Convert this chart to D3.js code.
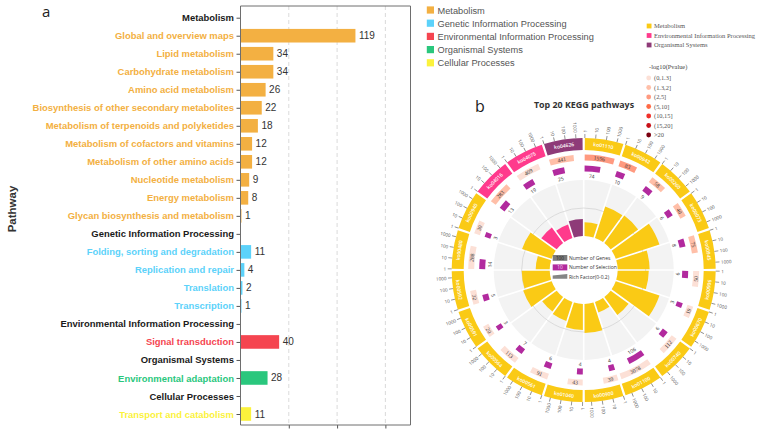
<!DOCTYPE html>
<html><head><meta charset="utf-8">
<script src="https://cdn.jsdelivr.net/npm/d3@7/dist/d3.min.js"></script>
<style>html,body{margin:0;padding:0;background:#fff}svg{display:block}</style>
</head><body><svg id="c" width="761" height="436"></svg>
<script>
// ---------- panel a data ----------
const pathways = ["Metabolism","Global and overview maps","Lipid metabolism","Carbohydrate metabolism","Amino acid metabolism","Biosynthesis of other secondary metabolites","Metabolism of terpenoids and polyketides","Metabolism of cofactors and vitamins","Metabolism of other amino acids","Nucleotide metabolism","Energy metabolism","Glycan biosynthesis and metabolism","Genetic Information Processing","Folding, sorting and degradation","Replication and repair","Translation","Transcription","Environmental Information Processing","Signal transduction","Organismal Systems","Environmental adaptation","Cellular Processes","Transport and catabolism"];
const pathwayCounts = [null,119,34,34,26,22,18,12,12,9,8,1,null,11,4,2,1,null,40,null,28,null,11];
const pathwayGroups = [-1,0,0,0,0,0,0,0,0,0,0,0,-1,1,1,1,1,-1,2,-1,3,-1,4];
const groupNames = ["Metabolism","Genetic Information Processing","Environmental Information Processing","Organismal Systems","Cellular Processes"];
const groupColors = ["#F3B042","#5CD2FA","#F54550","#2AC77D","#FBF23C"];
const xTicks = [50,100,150];
// ---------- panel b data ----------
const koIds = ["ko01110","ko00942","ko00260","ko00073","ko00945","ko00906","ko00670","ko00740","ko01100","ko00900","ko01040","ko00561","ko00564","ko00591","ko00592","ko00480","ko00940","ko04016","ko04075","ko04626"];
const koClass = [0,0,0,0,0,0,0,0,0,0,0,0,0,0,0,0,0,1,1,2];
const koGenes = [1596,83,58,40,75,50,19,112,3078,39,43,91,113,20,32,288,30,283,409,441];
const koSelected = [74,10,9,6,8,6,3,6,106,4,4,6,7,3,5,14,3,13,19,25];
const koRich = [0.049,0.118,0.121,0.164,0.114,0.111,0.164,0.079,0.039,0.104,0.093,0.071,0.064,0.107,0.100,0.050,0.111,0.068,0.050,0.061];
const koPbin = [2,2,1,1,1,0,0,0,0,0,0,0,0,0,0,0,0,1,0,1];
const classNames = ["Metabolism","Environmental Information Processing","Organismal Systems"];
const classColors = ["#FACA15","#FF3A8C","#8E3B78"];
const pBins = ["(0,1.3]","(1.3,2]","(2,5]","(5,10]","(10,15]","(15,20]",">20"];
const pColors = ["#FCE0D6","#FFBFA8","#FF9A80","#FF6A45","#F0302A","#C81018","#7A0010"];
const logTicks = [1,10,100,1000];

const svg = d3.select("#c");
const SANS = "'Liberation Sans',Arial,sans-serif", OPEN = "'Open Sans',sans-serif", SERIF = "'Liberation Serif',serif";

// ===== panel a =====
const plot = {l:240.5, r:410.5, t:6, b:425};
const x = d3.scaleLinear().domain([0,176]).range([plot.l,plot.r]);
const y = d3.scalePoint().domain(pathways).range([17.7,414]);
const a = svg.append("g");
a.append("g").selectAll("line").data(xTicks).join("line")
  .attr("x1",d=>x(d)).attr("x2",d=>x(d)).attr("y1",plot.t).attr("y2",plot.b)
  .attr("stroke","#d0d0d0").attr("stroke-dasharray","4 3").attr("stroke-width",0.8);
const barData = pathways.map((p,i)=>({p,v:pathwayCounts[i],g:pathwayGroups[i]})).filter(d=>d.v!==null);
a.append("g").selectAll("rect").data(barData).join("rect")
  .attr("x",plot.l).attr("y",d=>y(d.p)-6.8).attr("height",13.6)
  .attr("width",d=>x(d.v)-plot.l).attr("fill",d=>groupColors[d.g]);
a.append("g").selectAll("text").data(barData).join("text")
  .attr("x",d=>x(d.v)+3.5).attr("y",d=>y(d.p)+3.5)
  .attr("font-family",SANS).attr("font-size",10).attr("fill","#333").text(d=>d.v);
const yAxis = a.append("g").attr("transform",`translate(${plot.l},0)`)
  .call(d3.axisLeft(y).tickSize(4).tickPadding(2.5));
yAxis.select(".domain").remove();
yAxis.selectAll("line").attr("stroke","#555");
yAxis.selectAll("text").attr("font-family",SANS).attr("font-size",9.45).attr("font-weight","bold")
  .attr("fill",(d,i)=>pathwayGroups[i]<0?"#1a1a1a":groupColors[pathwayGroups[i]]);
const xAxis = a.append("g").attr("transform",`translate(0,${plot.b})`)
  .call(d3.axisBottom(x).tickValues(xTicks).tickSize(3.5).tickFormat(""));
xAxis.select(".domain").remove();
xAxis.selectAll("line").attr("stroke","#555");
a.append("path").attr("d",`M${plot.r},${plot.b}H${plot.l}V${plot.t}H${plot.r}V${plot.b}`)
  .attr("fill","none").attr("stroke","#6e6e6e").attr("stroke-width",1);
a.append("text").attr("transform","translate(15.5,209) rotate(-90)").attr("text-anchor","middle")
  .attr("font-family",SANS).attr("font-size",11.5).attr("font-weight","bold").attr("fill","#333").text("Pathway");
svg.append("text").attr("x",42).attr("y",16.5).attr("font-family",OPEN).attr("font-size",15).attr("fill","#222").text("a");
svg.append("text").attr("x",475).attr("y",112).attr("font-family",OPEN).attr("font-size",16).attr("fill","#222").text("b");

// legend 1
const leg1Y = d3.scalePoint().domain(groupNames).range([10,62.8]);
const l1 = svg.append("g").selectAll("g").data(groupNames).join("g");
l1.append("rect").attr("x",426.8).attr("y",d=>leg1Y(d)-3.6).attr("width",7.2).attr("height",7.2)
  .attr("fill",(d,i)=>groupColors[i]);
l1.append("text").attr("x",437.5).attr("y",d=>leg1Y(d)+3.5).attr("font-family",SANS).attr("font-size",9.25)
  .attr("fill","#555").text(d=>d);

// legend 2
const leg2Y = d3.scalePoint().domain(classNames).range([26,45]);
const l2 = svg.append("g").selectAll("g").data(classNames).join("g");
l2.append("rect").attr("x",646.7).attr("y",d=>leg2Y(d)-2.4).attr("width",4.8).attr("height",4.8)
  .attr("fill",(d,i)=>classColors[i]);
l2.append("text").attr("x",654).attr("y",d=>leg2Y(d)+2).attr("font-family",SERIF).attr("font-size",6.5)
  .attr("fill","#555").text(d=>d);
svg.append("text").attr("x",649).attr("y",68.5).attr("font-family",SERIF).attr("font-size",6.4).attr("fill","#444").text("-log10(Pvalue)");
const leg3Y = d3.scalePoint().domain(pBins).range([78,135]);
const l3 = svg.append("g").selectAll("g").data(pBins).join("g");
l3.append("circle").attr("cx",648.7).attr("cy",d=>leg3Y(d)).attr("r",2.4).attr("fill",(d,i)=>pColors[i]);
l3.append("text").attr("x",654).attr("y",d=>leg3Y(d)+2.1).attr("font-family",SERIF).attr("font-size",6.4)
  .attr("fill","#555").text(d=>d);

// ===== panel b =====
svg.append("text").attr("x",584).attr("y",108).attr("text-anchor","middle").attr("font-family",OPEN)
  .attr("font-size",8.9).attr("font-weight","bold").attr("fill","#333").text("Top 20 KEGG pathways");
const cx = 583.7, cy = 270;
const b = svg.append("g").attr("transform",`translate(${cx},${cy})`);
const rad = d=>d*Math.PI/180;
const sector = d3.scaleBand().domain(d3.range(koIds.length)).range([0,360]);
const pad = 0.5;
const sStart = i=>sector(i)+pad, sEnd = i=>sector(i)+sector.bandwidth()-pad;
const deco = d3.scaleLog().domain([1,1000]).range([0,14.1]);
const rich = d3.scaleLinear().domain([0,0.2]).range([34,90]);
const rows = koIds.map((id,i)=>({id,i}));
const polar = (r,deg)=>[r*Math.sin(rad(deg)),-r*Math.cos(rad(deg))];
const tang = (r,deg)=>{const p=polar(r,deg);const f=(deg>90&&deg<270)?deg-180:deg;return `translate(${p[0]},${p[1]}) rotate(${f})`;};
const arc = d3.arc();
const padArc = d3.arc().padAngle(0.028).padRadius(60);

// grey background sectors
b.append("g").selectAll("path").data(rows).join("path")
  .attr("d",d=>padArc({innerRadius:34,outerRadius:90,startAngle:rad(sector(d.i)),endAngle:rad(sector(d.i)+sector.bandwidth())}))
  .attr("fill","#F3F3F3");
b.append("circle").attr("r",rich(0.1)).attr("fill","none").attr("stroke","#d4d4d4").attr("stroke-width",0.8);
// rich factor bars
b.append("g").selectAll("path").data(rows).join("path")
  .attr("d",d=>padArc({innerRadius:34,outerRadius:rich(koRich[d.i]),startAngle:rad(sector(d.i)),endAngle:rad(sector(d.i)+sector.bandwidth())}))
  .attr("fill",d=>classColors[koClass[d.i]]);
// selection bars
b.append("g").selectAll("path").data(rows).join("path")
  .attr("d",d=>arc({innerRadius:98.5,outerRadius:104.5,startAngle:rad(sStart(d.i)),endAngle:rad(sStart(d.i)+deco(koSelected[d.i]+1))}))
  .attr("fill","#B22A9E");
b.append("g").selectAll("text").data(rows).join("text")
  .attr("transform",d=>tang(94,sStart(d.i)+deco(koSelected[d.i]+1)/2))
  .attr("text-anchor","middle").attr("dominant-baseline","central")
  .attr("font-family",OPEN).attr("font-size",5).attr("fill","#333").text(d=>koSelected[d.i]);
// gene tiles
b.append("g").selectAll("path").data(rows).join("path")
  .attr("d",d=>arc({innerRadius:109.5,outerRadius:115.5,startAngle:rad(sStart(d.i)),endAngle:rad(sStart(d.i)+deco(koGenes[d.i]))}))
  .attr("fill",d=>pColors[koPbin[d.i]]);
b.append("g").selectAll("text").data(rows).join("text")
  .attr("transform",d=>tang(112.5,sStart(d.i)+deco(koGenes[d.i])/2))
  .attr("text-anchor","middle").attr("dominant-baseline","central")
  .attr("font-family",SERIF).attr("font-size",5.6).attr("fill","#333").text(d=>koGenes[d.i]);
// outer ring
b.append("g").selectAll("path").data(rows).join("path")
  .attr("d",d=>arc({innerRadius:120,outerRadius:132,startAngle:rad(sStart(d.i)),endAngle:rad(sEnd(d.i))}))
  .attr("fill",d=>classColors[koClass[d.i]]);
b.append("g").selectAll("text").data(rows).join("text")
  .attr("transform",d=>tang(126,sector(d.i)+sector.bandwidth()/2))
  .attr("text-anchor","middle").attr("dominant-baseline","central")
  .attr("font-family",OPEN).attr("font-size",5).attr("font-weight","600").attr("fill","#fff").text(d=>d.id);
// ring ticks
const tickRows = rows.flatMap(d=>logTicks.map(t=>({t,deg:sStart(d.i)+deco(t)})));
const ticks = b.append("g").selectAll("g").data(tickRows).join("g")
  .attr("transform",d=>`rotate(${d.deg})`);
ticks.append("line").attr("y1",-132).attr("y2",-136).attr("stroke","#555").attr("stroke-width",0.6);
b.append("g").selectAll("text").data(tickRows).join("text")
  .attr("transform",d=>{
    const p=polar(137.5,d.deg);
    const f=d.deg<180?d.deg-90:d.deg+90;
    return `translate(${p[0]},${p[1]}) rotate(${f})`;})
  .attr("text-anchor",d=>d.deg<180?"start":"end").attr("dominant-baseline","central")
  .attr("font-family",OPEN).attr("font-size",4.6).attr("fill","#555").text(d=>d.t);

// centre legend
const cl = svg.append("g");
cl.append("rect").attr("x",552.7).attr("y",255).attr("width",14.6).attr("height",5.8).attr("fill","#7a7a7a");
cl.append("text").attr("x",560).attr("y",259.8).attr("text-anchor","middle").attr("font-family",OPEN).attr("font-size",4.8).attr("fill","#222").text("100");
cl.append("rect").attr("x",552.7).attr("y",264.4).attr("width",14.6).attr("height",6).attr("fill","#B22A9E");
cl.append("text").attr("x",560).attr("y",269.2).attr("text-anchor","middle").attr("font-family",OPEN).attr("font-size",4.8).attr("fill","#f3d0ee").text("10");
cl.append("path").attr("d","M552.7,278.8V275.6L567.3,274V278.8Z").attr("fill","#858585");
const centreLabels = ["Number of Genes","Number of Selection","Rich Factor(0-0.2)"];
const centreY = [258,267.4,276.6];
cl.selectAll("text.l").data(centreLabels).join("text").attr("class","l")
  .attr("x",569).attr("y",(d,i)=>centreY[i]).attr("dominant-baseline","central")
  .attr("font-family",OPEN).attr("font-size",5).attr("fill","#333").text(d=>d);
</script></body></html>
